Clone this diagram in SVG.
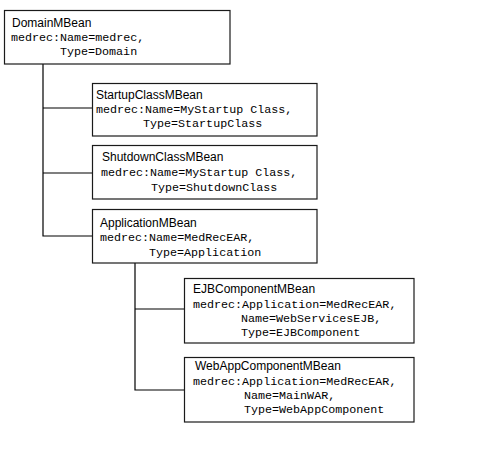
<svg xmlns="http://www.w3.org/2000/svg" width="500" height="450" viewBox="0 0 500 450">
<style>
.box{fill:#fff;stroke:#1a1a1a;stroke-width:1.2}
.in{fill:none;stroke:#c8c8c8;stroke-width:1}
.t{font-family:"Liberation Sans",Arial,sans-serif;font-size:12px;fill:#000}
.m{font-family:"Liberation Mono","Courier New",monospace;font-size:11.7px;fill:#000}
.c{fill:none;stroke:#000;stroke-width:1.2}
</style>
<rect width="500" height="450" fill="#fff"/>
<g id="connectors">
<polyline class="c" points="43,64 43,236 92,236"/>
<line class="c" x1="43" y1="108" x2="92" y2="108"/>
<line class="c" x1="43" y1="173" x2="92" y2="173"/>
<polyline class="c" points="135,263 135,390 184,390"/>
<line class="c" x1="135" y1="309" x2="184" y2="309"/>
</g>
<g id="domain">
<rect class="box" x="4.5" y="10.5" width="225.5" height="53.5"/>
<text class="t" x="12" y="27">DomainMBean</text>
<text class="m" x="11" y="41">medrec:Name=medrec,</text>
<text class="m" x="60" y="55">Type=Domain</text>
</g>
<g id="startup">
<rect class="box" x="92.5" y="83.5" width="224.5" height="52.5"/>
<text class="t" x="96" y="99">StartupClassMBean</text>
<text class="m" x="96" y="113">medrec:Name=MyStartup Class,</text>
<text class="m" x="143" y="127">Type=StartupClass</text>
</g>
<g id="shutdown">
<rect class="box" x="92.5" y="145.5" width="224.5" height="53.5"/>
<text class="t" x="102" y="161">ShutdownClassMBean</text>
<text class="m" x="101" y="176">medrec:Name=MyStartup Class,</text>
<text class="m" x="151" y="191">Type=ShutdownClass</text>
</g>
<g id="application">
<rect class="box" x="92.5" y="209.5" width="224.5" height="53.5"/>
<text class="t" x="100" y="227">ApplicationMBean</text>
<text class="m" x="100" y="241">medrec:Name=MedRecEAR,</text>
<text class="m" x="149" y="256">Type=Application</text>
</g>
<g id="ejb">
<rect class="box" x="184.5" y="278.5" width="229.5" height="64.5"/>
<text class="t" x="193" y="293">EJBComponentMBean</text>
<text class="m" x="193" y="308">medrec:Application=MedRecEAR,</text>
<text class="m" x="241" y="322">Name=WebServicesEJB,</text>
<text class="m" x="241" y="336">Type=EJBComponent</text>
</g>
<g id="webapp">
<rect class="box" x="184.5" y="357.5" width="229.5" height="64.5"/>
<text class="t" x="195" y="370">WebAppComponentMBean</text>
<text class="m" x="193" y="385">medrec:Application=MedRecEAR,</text>
<text class="m" x="244" y="399">Name=MainWAR,</text>
<text class="m" x="244" y="413">Type=WebAppComponent</text>
</g>
</svg>
